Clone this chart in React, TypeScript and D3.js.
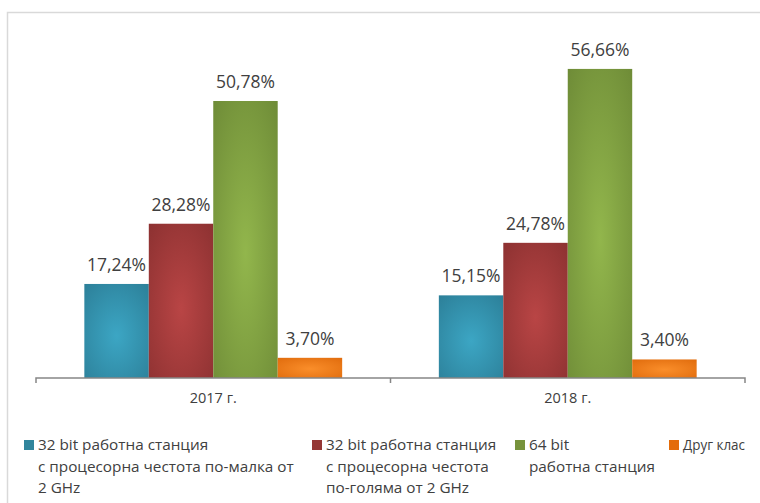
import React, { useEffect } from "react";
import * as d3 from "d3";

const categories = ["2017 г.", "2018 г."];
const seriesNames = [
  ["32 bit работна станция", "с процесорна честота по-малка от", "2 GHz"],
  ["32 bit работна станция", "с процесорна честота", "по-голяма от 2 GHz"],
  ["64 bit", "работна станция"],
  ["Друг клас"],
];
const s1 = [17.24, 15.15];
const s2 = [28.28, 24.78];
const s3 = [50.78, 56.66];
const s4 = [3.7, 3.4];
const seriesValues = [s1, s2, s3, s4];
const labelFmt = (v: number) => v.toFixed(2).replace(".", ",") + "%";

const colors = [
  { c: "#3ca6c4", e: "#2c7f98" },
  { c: "#b94545", e: "#8c3131" },
  { c: "#92b64c", e: "#6e8b37" },
  { c: "#fa8e2a", e: "#e06b0c" },
];
const legendSwatch = ["#31859c", "#953735", "#77933c", "#e46c0a"];

export default function App() {
  const W = 760, H = 503;
  const axisY = 378, x0 = 36, x1 = 745;
  useEffect(() => {
    document.body.style.margin = "0";
    document.body.style.overflow = "hidden";
    document.documentElement.style.overflow = "hidden";
  }, []);
  const x = d3.scaleBand().domain(categories).range([x0, x1]).paddingInner(0).paddingOuter(0);
  const inner = d3.scaleBand().domain(["0", "1", "2", "3"]).range([0, x.bandwidth()]).paddingInner(0).paddingOuter(0.75);
  const y = d3.scaleLinear().domain([0, 60]).range([axisY, axisY - 327.3]);
  const font = "Open Sans, 'Noto Sans', sans-serif";
  const legendX = [24, 312, 515, 669];
  return (
    <div style={{ position: "fixed", left: 0, top: 0, width: W, height: H, overflow: "hidden", background: "#fff" }}>
      <svg width={W} height={H} style={{ display: "block" }}>
        <defs>
          {colors.map((c, i) => (
            <radialGradient key={i} id={`g${i}`} cx="0.5" cy="0.55" r="0.75">
              <stop offset="0" stopColor={c.c} />
              <stop offset="1" stopColor={c.e} />
            </radialGradient>
          ))}
        </defs>
        <rect x={0} y={0} width={W} height={H} fill="#fff" />
        <path d={`M7.5,${H}V12.5H${W}`} fill="none" stroke="#d9d9d9" strokeWidth={1.5} />
        {categories.map((cat, ci) =>
          seriesValues.map((vals, si) => {
            const bx = (x(cat) as number) + (inner(String(si)) as number);
            const bw = inner.bandwidth();
            const top = y(vals[ci]);
            return (
              <g key={`${ci}-${si}`}>
                <rect x={bx} y={top} width={bw} height={axisY - top} fill={`url(#g${si})`} />
                <text x={bx + bw / 2} y={top - 13} textAnchor="middle" fontFamily={font} fontSize={17.5} fill="#404040">
                  {labelFmt(vals[ci])}
                </text>
              </g>
            );
          })
        )}
        <path d={`M${x0},${axisY + 5}V${axisY}H${x1}V${axisY + 5}M${(x0 + x1) / 2},${axisY}V${axisY + 5}`} fill="none" stroke="#868686" strokeWidth={1.5} />
        {categories.map((cat) => (
          <text key={cat} x={(x(cat) as number) + x.bandwidth() / 2} y={403} textAnchor="middle" fontFamily={font} fontSize={14.5} fill="#404040">
            {cat}
          </text>
        ))}
        {seriesNames.map((lines, i) => (
          <g key={i}>
            <rect x={legendX[i]} y={440} width={10} height={10} fill={legendSwatch[i]} />
            {lines.map((l, li) => (
              <text key={li} x={legendX[i] + 14} y={450 + li * 21.5} fontFamily={font} fontSize={15.3} fill="#404040" textLength={i === 3 ? 62 : undefined} lengthAdjust="spacingAndGlyphs">
                {l}
              </text>
            ))}
          </g>
        ))}
      </svg>
    </div>
  );
}
